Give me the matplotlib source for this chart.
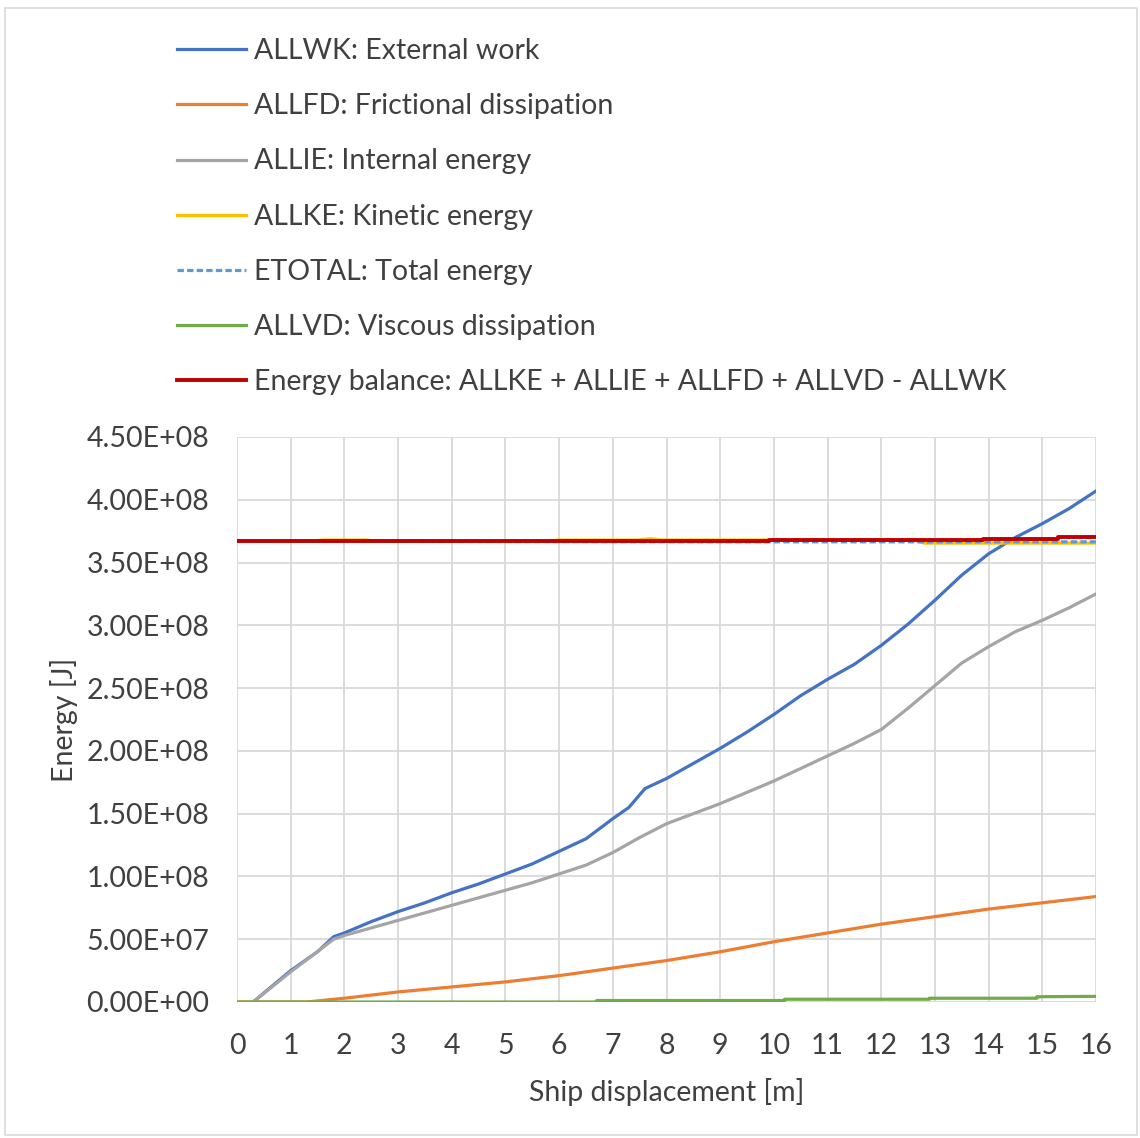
import matplotlib
matplotlib.use("Agg")
import matplotlib.pyplot as plt
from matplotlib.patches import Rectangle
from matplotlib.ticker import FuncFormatter, MultipleLocator

plt.rcParams["font.family"] = ["Lato", "DejaVu Sans"]

# ship displacement [m] and energies [J]
x_wk = [0.3, 1.0, 1.5, 1.8, 2.0, 2.5, 3.0, 3.5, 4.0, 4.5, 5.0, 5.5, 6.0, 6.5, 7.0,
        7.3, 7.6, 8.0, 8.5, 9.0, 9.5, 10.0, 10.5, 11.0, 11.5, 12.0, 12.5, 13.0,
        13.5, 14.0, 14.5, 15.0, 15.5, 16.0]
allwk = [0.0, 2.5e7, 4.0e7, 5.2e7, 5.5e7, 6.4e7, 7.2e7, 7.9e7, 8.7e7, 9.4e7,
         1.02e8, 1.10e8, 1.20e8, 1.30e8, 1.46e8, 1.55e8, 1.70e8, 1.78e8, 1.90e8,
         2.02e8, 2.15e8, 2.29e8, 2.44e8, 2.57e8, 2.69e8, 2.84e8, 3.01e8, 3.20e8,
         3.40e8, 3.57e8, 3.70e8, 3.81e8, 3.93e8, 4.07e8]

x_ie = [0.3, 1.0, 1.8, 2.0, 2.5, 3.0, 3.5, 4.0, 4.5, 5.0, 5.5, 6.0, 6.5, 7.0, 7.5,
        8.0, 8.5, 9.0, 9.5, 10.0, 10.5, 11.0, 11.5, 12.0, 12.5, 13.0, 13.5, 14.0,
        14.5, 15.0, 15.5, 16.0]
allie = [0.0, 2.4e7, 5.0e7, 5.3e7, 5.9e7, 6.5e7, 7.1e7, 7.7e7, 8.3e7, 8.9e7,
         9.5e7, 1.02e8, 1.09e8, 1.19e8, 1.31e8, 1.42e8, 1.50e8, 1.58e8, 1.67e8,
         1.76e8, 1.86e8, 1.96e8, 2.06e8, 2.17e8, 2.34e8, 2.52e8, 2.70e8, 2.83e8,
         2.95e8, 3.04e8, 3.14e8, 3.25e8]

x_fd = [0.0, 1.3, 2.0, 3.0, 4.0, 5.0, 6.0, 7.0, 8.0, 9.0, 10.0, 11.0, 12.0, 13.0,
        14.0, 15.0, 16.0]
allfd = [0.0, 0.0, 3.0e6, 8.0e6, 1.2e7, 1.6e7, 2.1e7, 2.7e7, 3.3e7, 4.0e7, 4.8e7,
         5.5e7, 6.2e7, 6.8e7, 7.4e7, 7.9e7, 8.4e7]

x_vd = [0.0, 6.7, 6.7, 10.2, 10.2, 12.9, 12.9, 14.9, 14.9, 16.0]
allvd = [0.0, 0.0, 1.2e6, 1.2e6, 2.2e6, 2.2e6, 3.0e6, 3.0e6, 4.2e6, 4.5e6]

x_ke = [0.0, 1.4, 1.6, 2.4, 2.6, 5.8, 6.0, 7.5, 7.7, 7.9, 8.1, 12.6, 12.8, 16.0]
allke = [3.67e8, 3.67e8, 3.68e8, 3.68e8, 3.67e8, 3.67e8, 3.68e8, 3.68e8, 3.69e8,
         3.68e8, 3.68e8, 3.68e8, 3.655e8, 3.655e8]

x_tot = [0.0, 10.0, 12.6, 16.0]
etotal = [3.67e8, 3.665e8, 3.665e8, 3.665e8]

x_bal = [0.0, 9.9, 9.9, 13.9, 13.9, 15.3, 15.3, 16.0]
balance = [3.67e8, 3.67e8, 3.68e8, 3.68e8, 3.69e8, 3.69e8, 3.70e8, 3.70e8]

fig = plt.figure(figsize=(11.4, 11.38), dpi=100)
ax = fig.add_axes([237 / 1140, 1 - 1002 / 1138, (1096 - 237) / 1140, (1002 - 437) / 1138])

lw = 2.3
ax.plot(x_wk, allwk, color="#4472C4", lw=lw, label="ALLWK: External work")
ax.plot(x_fd, allfd, color="#ED7D31", lw=lw, label="ALLFD: Frictional dissipation")
ax.plot(x_ie, allie, color="#A5A5A5", lw=lw, label="ALLIE: Internal energy")
ax.plot(x_ke, allke, color="#FFC000", lw=lw, label="ALLKE: Kinetic energy")
ax.plot(x_tot, etotal, color="#5B9BD5", lw=lw, ls=(0, (2, 1)), label="ETOTAL: Total energy")
ax.plot(x_vd, allvd, color="#70AD47", lw=lw, label="ALLVD: Viscous dissipation")
ax.plot(x_bal, balance, color="#C00000", lw=2.8,
        label="Energy balance: ALLKE + ALLIE + ALLFD + ALLVD - ALLWK")

ax.set_xlim(0, 16)
ax.set_ylim(0, 4.5e8)
ax.xaxis.set_major_locator(MultipleLocator(1))
ax.yaxis.set_major_locator(MultipleLocator(5e7))
ax.yaxis.set_major_formatter(FuncFormatter(lambda v, p: f"{v:.2E}"))
ax.grid(True, color="#D9D9D9", lw=1.3)
ax.set_axisbelow(True)
for s in ax.spines.values():
    s.set_visible(False)
ax.tick_params(length=0, labelsize=20.5, labelcolor="#404040")
ax.tick_params(axis="x", pad=22)
ax.tick_params(axis="y", pad=20)
ax.set_xlabel("Ship displacement [m]", fontsize=20.5, color="#404040", labelpad=14)
ax.set_ylabel("Energy [J]", fontsize=20.5, color="#404040", labelpad=6)

fig.legend(loc="upper left", bbox_to_anchor=(166 / 1140, 1 - 27 / 1138),
           borderaxespad=0, frameon=False, fontsize=20.5, handlelength=2.4,
           handletextpad=0.28, labelspacing=1.02, labelcolor="#404040")

fig.patches.append(Rectangle((5 / 1140, 3 / 1138), 1132 / 1140, 1127 / 1138,
                             transform=fig.transFigure, fill=False,
                             edgecolor="#D9D9D9", lw=1.2))

fig.savefig("out.png", dpi=100)
